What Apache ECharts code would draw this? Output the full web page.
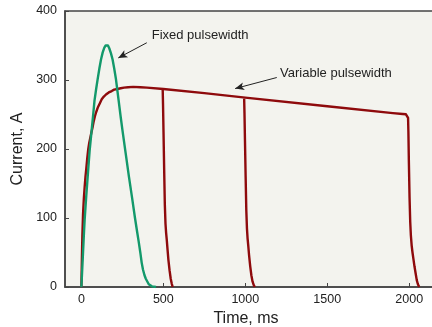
<!DOCTYPE html>
<html>
<head>
<meta charset="utf-8">
<script src="https://cdn.jsdelivr.net/npm/echarts@6/dist/echarts.min.js"></script>
<style>
  html, body { margin: 0; padding: 0; background: #fff; overflow: hidden; }
  #chart { width: 432px; height: 327px; }
</style>
</head>
<body>
<div id="chart"></div>
<script>
// Fixed pulsewidth (green)
const fixedTime = [0, 5, 10, 15, 20, 30, 40, 50, 63, 72, 80, 90, 99, 110, 120, 130, 140, 148, 155, 162, 170, 180, 190, 200, 211, 220, 230, 240, 250, 270, 290, 310, 327, 340, 350, 360, 368, 376, 385, 393, 402, 411, 420, 430, 440, 455];
const fixedCurrent = [0, 25, 50, 75, 98, 133, 165, 197, 228, 250, 270, 287, 301, 317, 330, 340, 347, 350, 351, 350, 346, 339, 330, 317, 301, 284, 265, 246, 228, 194, 160, 128, 100, 80, 65, 49, 35, 25, 17, 12, 8, 4, 2, 1, 0, 0];

// Variable pulsewidth: common rise + plateau, ending at ~2000 ms
const varTime = [0, 3, 6, 10, 15, 20, 25, 30, 36, 42, 48, 55, 61, 67, 75, 83, 91, 100, 112, 124, 137, 150, 167, 185, 200, 220, 240, 260, 285, 316, 360, 400, 500, 750, 1000, 1500, 1900, 1960, 1980, 1988, 1991, 1993, 1995, 1998, 2002, 2006, 2010, 2015, 2020, 2026, 2032, 2039, 2046, 2053, 2061];
const varCurrent = [0, 40, 75, 105, 128, 145, 160, 172, 187, 200, 209, 217, 224, 230, 240, 248, 254, 260, 266, 272, 276, 279, 282, 284, 286, 287, 288, 289, 289.5, 290, 289.5, 289, 287, 281, 274.5, 262, 252, 250.8, 250.3, 249.5, 248, 245, 225, 180, 130, 95, 75, 60, 50, 40, 30, 20, 10, 4, 0];

// shorter variable pulses, ending at ~500 and ~1000 ms
const drop500Time = [496, 498, 501, 505, 509, 513, 517, 521, 526, 531, 538, 545, 551, 557];
const drop500Current = [287, 265, 225, 170, 120, 92, 78, 68, 53, 39, 24, 12, 5, 0];
const drop1000Time = [993, 995, 998, 1002, 1006, 1010, 1014, 1018, 1023, 1030, 1037, 1044, 1051, 1058];
const drop1000Current = [273, 252, 212, 160, 112, 85, 70, 60, 46, 30, 17, 8, 3, 0];

const xTicks = [0, 500, 1000, 1500, 2000];

const zip = (xs, ys) => xs.map((x, i) => [x, ys[i]]);

const RED = '#8e0a0c';
const GREEN = '#13996b';
const AXIS = '#444';
const FONT = 'Liberation Sans';

const chart = echarts.init(document.getElementById('chart'));

const redLine = (name, data) => ({
  name,
  type: 'line',
  data,
  showSymbol: false,
  lineStyle: { color: RED, width: 2.4, join: 'round' },
  z: 2,
  silent: true,
});

chart.setOption({
  animation: false,
  grid: {
    left: 65, width: 377, top: 11, bottom: 40,
    outerBoundsMode: 'none',
    containLabel: false,
    show: true,
    backgroundColor: '#f3f3ee',
    borderColor: AXIS,
    borderWidth: 1.5,
  },
  xAxis: {
    type: 'value',
    min: -100,
    max: 2200,
    name: 'Time, ms',
    nameLocation: 'middle',
    nameGap: 21,
    nameTextStyle: { fontFamily: FONT, fontSize: 16, color: '#222', padding: [0, 15, 0, 0] },
    axisLine: { onZero: false, lineStyle: { color: AXIS, width: 1.5 } },
    axisTick: { inside: true, length: 4, customValues: xTicks, lineStyle: { color: AXIS } },
    axisLabel: {
      customValues: xTicks, margin: 6, fontFamily: FONT, fontSize: 12.5, color: '#222',
      formatter: (v) => String(v),
    },
    splitLine: { show: false },
  },
  yAxis: {
    type: 'value',
    min: 0,
    max: 400,
    interval: 100,
    name: 'Current, A',
    nameLocation: 'middle',
    nameGap: 34,
    nameTextStyle: { fontFamily: FONT, fontSize: 16, color: '#222' },
    axisLine: { show: true, onZero: false, lineStyle: { color: AXIS, width: 1.5 } },
    axisTick: { show: true, inside: true, length: 4, lineStyle: { color: AXIS } },
    axisLabel: { margin: 8, fontFamily: FONT, fontSize: 12.5, color: '#222' },
    splitLine: { show: false },
  },
  series: [
    redLine('Variable pulsewidth', zip(varTime, varCurrent)),
    redLine('Variable 500', zip(drop500Time, drop500Current)),
    redLine('Variable 1000', zip(drop1000Time, drop1000Current)),
    {
      name: 'Fixed pulsewidth',
      type: 'line',
      data: zip(fixedTime, fixedCurrent),
      showSymbol: false,
      lineStyle: { color: GREEN, width: 2.4, join: 'round' },
      z: 3,
      silent: true,
      markLine: {
        silent: true,
        symbol: ['none', 'arrow'],
        symbolSize: [6, 9],
        label: { show: false },
        lineStyle: { color: '#222', width: 1, type: 'solid' },
        data: [
          [{ coord: [399, 354] }, { coord: [225, 332] }],
          [{ coord: [1192, 303.6] }, { coord: [938, 287.6] }],
        ],
      },
      markPoint: {
        silent: true,
        symbol: 'circle',
        symbolSize: 0,
        label: {
          show: true,
          position: 'right',
          distance: 0,
          fontFamily: FONT,
          fontSize: 13,
          color: '#222',
          formatter: (p) => p.name,
        },
        data: [
          { name: 'Fixed pulsewidth', coord: [429, 364] },
          { name: 'Variable pulsewidth', coord: [1212, 310] },
        ],
      },
    },
  ],
});
</script>
</body>
</html>
